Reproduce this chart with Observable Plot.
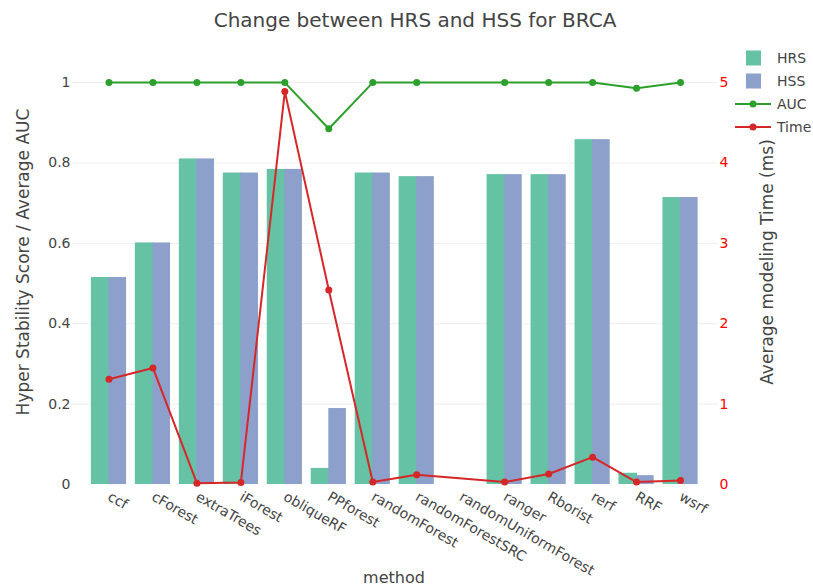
<!DOCTYPE html>
<html>
<head>
<meta charset="utf-8">
<script src="https://cdn.jsdelivr.net/npm/d3@7"></script>
<script src="https://cdn.jsdelivr.net/npm/@observablehq/plot@0.6"></script>
<style>
  body { margin: 0; background: #fff; }
  #wrap { position: relative; width: 813px; height: 586px; font-family: "DejaVu Sans", Verdana, sans-serif; }
</style>
</head>
<body>
<div id="wrap"></div>
<script>
const methods = ["ccf","cForest","extraTrees","iForest","obliqueRF","PPforest","randomForest","randomForestSRC","randomUniformForest","ranger","Rborist","rerf","RRF","wsrf"];
const hrs  = [0.515,0.601,0.810,0.775,0.784,0.040,0.775,0.766,null,0.771,0.771,0.858,0.028,0.714];
const hss  = [0.515,0.601,0.810,0.775,0.784,0.189,0.775,0.766,null,0.771,0.771,0.858,0.022,0.714];
const auc  = [1,1,1,1,1,0.885,1,1,null,1,1,1,0.986,1];
const timeMs = [1.31,1.45,0.016,0.025,4.89,2.42,0.03,0.12,null,0.03,0.13,0.34,0.03,0.05];
const leftTicks = [0,0.2,0.4,0.6,0.8,1];
const rightTicks = [0,1,2,3,4,5];
const timeMax = 5;

const colors = {HRS:"#66c2a5", HSS:"#8da0cb", AUC:"#2ca02c", Time:"#d62728"};

const W = 813, H = 586;
const mL = 72, mR = 96, mT = 62, mB = 102;
const xRange = [86.5, 702];
const pad = 0.2;
const step = (xRange[1]-xRange[0]) / methods.length;
const half = step*(1-pad)/2;

const rows = (arr, f = v => v) => methods.map((m,i)=>({method:m, v:arr[i]})).filter(d=>d.v!=null).map(d=>({method:d.method, v:f(d.v)}));
const barHRS = rows(hrs);
const barHSS = rows(hss);
const aucData = rows(auc);
const timeData = rows(timeMs, v => v/timeMax);

const plot = Plot.plot({
  width: W, height: H,
  marginLeft: mL, marginRight: mR, marginTop: mT, marginBottom: mB,
  style: {fontFamily: '"DejaVu Sans", Verdana, sans-serif', fontSize: "14px", color: "#444", background: "#fff"},
  x: {type: "band", domain: methods, range: xRange, paddingInner: pad, paddingOuter: pad/2, align: 0.5, round: false},
  y: {domain: [0, 1.05]},
  marks: [
    Plot.gridY(leftTicks.filter(t=>t>0), {stroke: "#eee", strokeOpacity: 1, strokeWidth: 1}),
    Plot.barY(barHRS, {x: "method", y: "v", fill: colors.HRS, insetRight: half - 1}),
    Plot.barY(barHSS, {x: "method", y: "v", fill: colors.HSS, insetLeft: half}),
    Plot.line(aucData, {x: "method", y: "v", stroke: colors.AUC, strokeWidth: 2}),
    Plot.dot(aucData, {x: "method", y: "v", fill: colors.AUC, r: 3.5}),
    Plot.line(timeData, {x: "method", y: "v", stroke: colors.Time, strokeWidth: 2}),
    Plot.dot(timeData, {x: "method", y: "v", fill: colors.Time, r: 3.5}),
    Plot.axisY({ticks: leftTicks, tickSize: 0, tickPadding: 2, tickFormat: d => String(+d.toFixed(1)), label: null, fill: "#444", fontSize: 14}),
    Plot.axisY({anchor: "right", ticks: rightTicks.map(t=>t/timeMax), tickSize: 0, tickPadding: 2, tickFormat: d => String(Math.round(d*timeMax)), label: null, fill: "#ff0000", fontSize: 14}),
    Plot.axisX({tickSize: 0, tickPadding: 11, tickRotate: 30, label: null, fill: "#444", fontSize: 14})
  ]
});

const wrap = document.getElementById("wrap");
wrap.appendChild(plot);
const svg = d3.select(plot);
const txt = (x,y,s,opts={}) => {
  const t = svg.append("text").attr("x",x).attr("y",y).text(s)
    .attr("fill", opts.fill||"#444").attr("font-size", opts.size||14)
    .attr("text-anchor", opts.anchor||"start")
    .attr("font-family", '"DejaVu Sans", Verdana, sans-serif');
  if (opts.rotate) t.attr("transform", `rotate(${opts.rotate},${x},${y})`);
  return t;
};
// title
txt(415, 27, "Change between HRS and HSS for BRCA", {size: 20, anchor: "middle"});
// axis titles
txt(394, 583, "method", {size: 16, anchor: "middle"});
txt(29, 262, "Hyper Stability Score / Average AUC", {size: 17, anchor: "middle", rotate: -90});
txt(773, 262, "Average modeling Time (ms)", {size: 17, anchor: "middle", rotate: -90});
// legend
const leg = [
  {k:"HRS", type:"bar"}, {k:"HSS", type:"bar"}, {k:"AUC", type:"line"}, {k:"Time", type:"line"}
];
leg.forEach((d,i)=>{
  const cy = 58 + i*23;
  if (d.type==="bar") {
    svg.append("rect").attr("x",746).attr("y",cy-7.5).attr("width",15).attr("height",15).attr("fill",colors[d.k]);
  } else {
    svg.append("line").attr("x1",735).attr("x2",771).attr("y1",cy).attr("y2",cy).attr("stroke",colors[d.k]).attr("stroke-width",2);
    svg.append("circle").attr("cx",753).attr("cy",cy).attr("r",3.5).attr("fill",colors[d.k]);
  }
  txt(777, cy+5, d.k, {size: 14});
});
</script>
</body>
</html>
